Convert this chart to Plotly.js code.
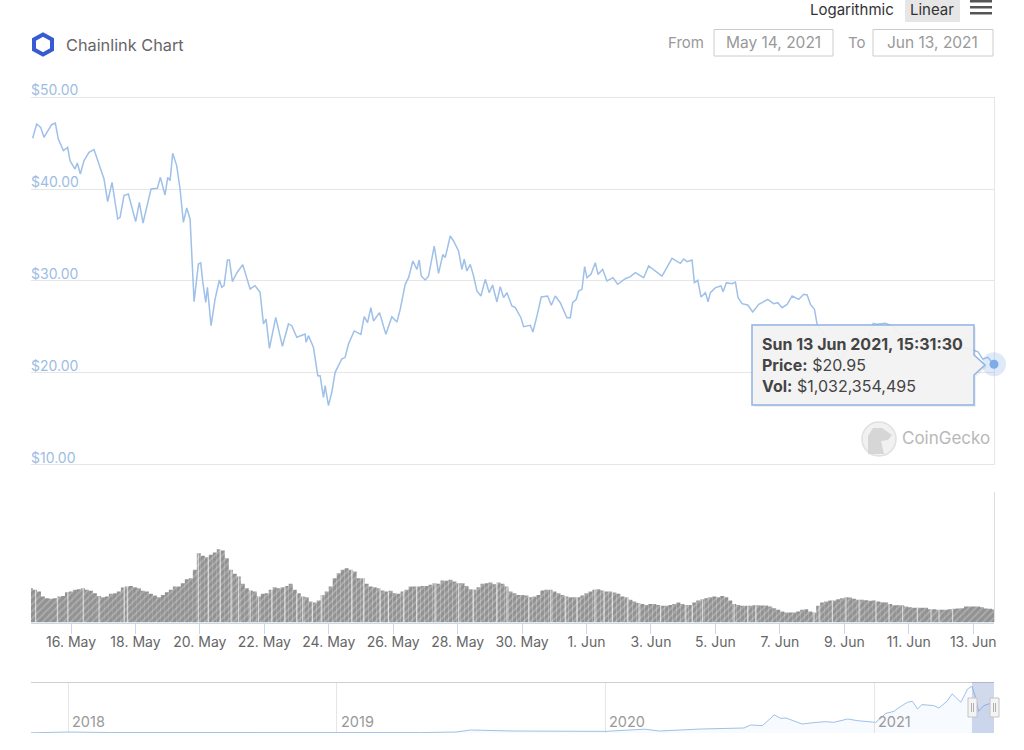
<!DOCTYPE html>
<html>
<head>
<meta charset="utf-8">
<title>Chainlink Chart</title>
<script src="https://cdn.plot.ly/plotly-3.0.1.min.js"></script>
<style>
    html, body { margin: 0; padding: 0; background: #fff; }
    #chart { width: 1024px; height: 750px; }
</style>
</head>
<body>
<div id="chart"></div>
<script>
/* Grafico do preco de Chainlink: preco, volume e navegador. */

// days counted from 14 May 2021 00:00 UTC
const priceDay = [
    0.809, 0.934, 1.058, 1.161, 1.285, 1.399, 1.513, 1.606, 1.762, 1.896, 1.969, 2.124, 2.196, 2.289, 2.403, 2.558,
    2.714, 2.900, 3.024, 3.138, 3.273, 3.449, 3.521, 3.645, 3.780, 4.007, 4.121, 4.235, 4.401, 4.484, 4.680, 4.773,
    4.918, 5.001, 5.074, 5.156, 5.280, 5.384, 5.488, 5.591, 5.695, 5.819, 5.953, 6.026, 6.088, 6.181, 6.233, 6.347,
    6.471, 6.605, 6.678, 6.750, 6.854, 6.916, 7.009, 7.144, 7.330, 7.558, 7.713, 7.868, 7.972, 8.054, 8.158, 8.354,
    8.561, 8.748, 8.851, 9.007, 9.265, 9.296, 9.369, 9.524, 9.659, 9.731, 9.835, 9.886, 9.990, 10.093, 10.197, 10.404,
    10.507, 10.611, 10.789, 10.892, 10.996, 11.099, 11.203, 11.306, 11.389, 11.575, 11.772, 11.958, 12.114, 12.217, 12.372, 12.476,
    12.610, 12.735, 12.807, 12.869, 12.993, 13.097, 13.273, 13.407, 13.542, 13.614, 13.770, 13.873, 14.028, 14.132, 14.204, 14.287,
    14.391, 14.494, 14.598, 14.722, 14.856, 14.980, 15.084, 15.218, 15.322, 15.426, 15.529, 15.684, 15.788, 15.964, 16.047, 16.254,
    16.336, 16.461, 16.595, 16.792, 16.906, 17.030, 17.185, 17.392, 17.496, 17.568, 17.682, 17.754, 17.858, 17.941, 18.013, 18.137,
    18.272, 18.355, 18.500, 18.634, 18.820, 18.965, 19.203, 19.358, 19.514, 19.773, 19.928, 20.342, 20.549, 20.654, 20.757, 20.913,
    21.016, 21.120, 21.275, 21.347, 21.451, 21.554, 21.689, 21.772, 21.844, 22.000, 22.175, 22.237, 22.341, 22.517, 22.620, 22.703,
    22.827, 23.003, 23.158, 23.345, 23.448, 23.624, 23.810, 23.935, 24.069, 24.225, 24.380, 24.587, 24.742, 24.846, 24.949, 25.073,
    25.156, 25.300, 25.600, 25.900, 26.100, 26.400, 26.700, 26.900, 27.000, 27.280, 27.500, 27.800, 28.100, 28.400, 28.800, 29.200,
    29.600, 30.000, 30.150, 30.300, 30.450, 30.646
];
const priceUsd = [
    45.51, 47.07, 46.70, 45.62, 46.34, 46.99, 47.17, 45.43, 44.17, 44.53, 43.08, 42.17, 42.83, 41.63, 43.08, 43.99,
    44.28, 42.36, 41.09, 38.62, 40.72, 36.74, 36.92, 39.28, 39.46, 36.45, 38.55, 36.30, 38.91, 40.00, 40.07, 41.27,
    39.35, 41.27, 40.91, 43.88, 42.54, 40.00, 36.38, 37.93, 36.74, 27.75, 31.85, 31.96, 29.93, 27.68, 29.31, 25.14,
    28.04, 30.11, 29.31, 29.49, 32.28, 32.28, 29.93, 30.87, 31.78, 29.13, 29.49, 28.77, 25.33, 25.87, 22.68, 26.05,
    22.90, 25.33, 25.14, 23.88, 24.24, 23.33, 24.06, 22.79, 19.71, 19.71, 17.35, 18.62, 16.45, 17.90, 20.07, 21.52,
    21.70, 23.15, 24.57, 24.38, 24.20, 26.12, 25.47, 27.10, 25.65, 26.56, 24.20, 26.12, 25.54, 26.92, 29.64, 30.36,
    32.17, 31.27, 32.28, 30.54, 30.11, 30.54, 33.80, 30.83, 32.90, 32.54, 34.89, 34.35, 33.26, 31.27, 32.36, 31.09,
    31.81, 30.54, 28.91, 28.37, 30.18, 28.73, 29.57, 27.72, 29.38, 28.19, 28.73, 27.28, 27.10, 26.01, 25.04, 25.18,
    24.46, 26.20, 28.26, 28.37, 27.36, 28.37, 27.64, 26.01, 26.01, 27.64, 28.01, 28.91, 29.09, 31.56, 30.36, 30.72,
    31.99, 30.72, 31.27, 30.00, 30.36, 29.64, 30.25, 30.47, 30.91, 30.36, 31.63, 30.54, 31.81, 32.46, 32.25, 31.92,
    32.39, 32.10, 32.28, 29.82, 30.07, 28.26, 28.73, 27.75, 28.73, 29.28, 29.46, 28.84, 29.82, 29.71, 29.89, 28.19,
    27.54, 27.39, 26.63, 27.46, 27.64, 28.01, 27.54, 27.64, 27.10, 27.46, 28.37, 28.01, 28.55, 28.48, 27.46, 26.92,
    25.29, 24.50, 23.00, 21.50, 22.50, 24.00, 23.50, 25.40, 25.30, 25.40, 25.10, 24.00, 24.30, 24.50, 23.50, 24.00,
    22.80, 22.50, 22.30, 21.50, 21.70, 20.95
];

// volume in USD billions, one bar about every 3 hours
const volumeBn = [
    2.71, 2.58, 2.45, 2.05, 1.92, 1.87, 1.92, 2.05, 2.10, 2.39, 2.45, 2.58, 2.63, 2.71, 2.58, 2.50, 2.31, 2.10, 2.00, 2.05,
    2.26, 2.31, 2.45, 2.76, 2.84, 2.89, 2.79, 2.71, 2.50, 2.45, 2.26, 2.13, 2.00, 2.18, 2.39, 2.58, 2.84, 2.84, 3.10, 3.42,
    3.50, 4.16, 5.47, 5.26, 5.15, 5.34, 5.52, 5.79, 5.68, 5.08, 4.16, 3.84, 3.63, 3.05, 2.71, 2.52, 2.45, 2.05, 2.26, 2.31,
    2.58, 2.79, 2.71, 2.79, 2.89, 3.05, 2.58, 2.31, 2.05, 2.00, 1.66, 1.58, 1.74, 2.18, 2.45, 2.84, 3.50, 3.89, 4.16, 4.29,
    4.16, 4.02, 3.50, 3.50, 3.05, 2.84, 2.79, 2.71, 2.52, 2.45, 2.50, 2.31, 2.26, 2.45, 2.58, 2.84, 2.84, 2.84, 2.89, 2.89,
    2.97, 3.10, 3.05, 3.31, 3.29, 3.37, 3.23, 3.10, 3.10, 2.89, 2.63, 2.58, 2.79, 3.05, 3.10, 3.16, 3.02, 3.16, 3.05, 2.84,
    2.45, 2.31, 2.18, 2.18, 2.13, 2.00, 2.05, 2.18, 2.52, 2.58, 2.58, 2.45, 2.31, 2.18, 2.05, 2.00, 2.00, 2.00, 2.13, 2.31,
    2.45, 2.58, 2.63, 2.52, 2.45, 2.45, 2.37, 2.26, 2.05, 2.00, 1.79, 1.66, 1.53, 1.47, 1.39, 1.47, 1.47, 1.39, 1.32, 1.32,
    1.39, 1.47, 1.58, 1.47, 1.39, 1.39, 1.58, 1.74, 1.84, 1.92, 2.00, 2.05, 2.00, 2.10, 2.00, 1.74, 1.47, 1.39, 1.32, 1.32,
    1.32, 1.37, 1.37, 1.34, 1.34, 1.26, 1.13, 1.00, 0.87, 0.79, 0.79, 0.79, 0.87, 1.00, 1.05, 0.87, 0.79, 1.32, 1.58, 1.66,
    1.74, 1.74, 1.84, 1.92, 2.00, 1.97, 1.87, 1.79, 1.79, 1.76, 1.71, 1.74, 1.66, 1.60, 1.58, 1.47, 1.37, 1.37, 1.37, 1.26,
    1.21, 1.16, 1.16, 1.16, 1.16, 1.05, 1.05, 1.00, 1.00, 1.00, 1.05, 1.08, 1.10, 1.13, 1.26, 1.26, 1.26, 1.26, 1.21, 1.10,
    1.08, 1.03
];

// days where the volume columns show a pale gap
const stripeDay = [
    0.90, 1.58, 1.90, 2.38, 2.87, 3.65, 3.75, 5.95, 6.26, 6.63, 6.97, 7.20, 7.56, 7.82, 8.23, 8.64, 9.01, 9.19, 9.49, 9.78,
    10.71, 11.08, 11.59, 11.85, 12.32, 12.73, 13.30, 14.03, 14.49, 15.22, 15.53, 16.21, 16.89, 17.35, 17.71, 18.26, 18.54,
    18.80, 19.27, 19.63, 20.30, 21.08, 21.28, 21.60, 22.58, 23.00, 23.25, 25.06, 25.22, 25.63, 26.05, 26.46, 26.98, 27.39,
    27.81, 28.27, 28.69, 28.94, 29.36
];

const navDate = [
    "2017-11-11", "2018-01-01", "2018-02-27", "2018-06-29", "2019-01-01", "2019-04-25", "2019-06-12", "2019-07-02",
    "2019-08-28", "2020-01-01", "2020-02-24", "2020-03-15", "2020-05-10", "2020-07-08", "2020-07-17", "2020-08-02",
    "2020-08-18", "2020-08-27", "2020-09-03", "2020-09-14", "2020-09-25", "2020-10-11", "2020-10-27", "2020-11-07",
    "2020-11-26", "2020-12-09", "2020-12-23", "2021-01-03", "2021-01-17", "2021-01-28", "2021-02-01", "2021-02-15",
    "2021-02-22", "2021-03-01", "2021-03-07", "2021-03-23", "2021-03-30", "2021-04-10", "2021-04-17", "2021-04-29",
    "2021-05-08", "2021-05-14", "2021-05-19", "2021-05-23", "2021-05-30", "2021-06-08", "2021-06-13"
];
const navPrice = [
    0.2, 1.1, 0.5, 0.3, 0.3, 0.45, 1.1, 3.3,
    2.2, 1.8, 4.2, 2.2, 4.4, 5.5, 8.8, 8.1,
    19.8, 16.1, 16.5, 12.8, 9.9, 11.4, 12.5, 11.7,
    15.4, 13.6, 12.1, 11.7, 21.6, 23.8, 26.4, 33.7,
    34.8, 26.4, 31.2, 30.1, 27.5, 34.8, 43.0, 33.8,
    48.4, 51.4, 39.0, 23.8, 30.0, 32.6, 31.0
];

const priceTicks = [10, 20, 30, 40, 50];
const volumeTickDates = [
    "2021-05-16", "2021-05-18", "2021-05-20", "2021-05-22", "2021-05-24", "2021-05-26", "2021-05-28", "2021-05-30",
    "2021-06-01", "2021-06-03", "2021-06-05", "2021-06-07", "2021-06-09", "2021-06-11", "2021-06-13"
];
const volumeTickLabels = [
    "16. May", "18. May", "20. May", "22. May", "24. May", "26. May", "28. May", "30. May",
    "1. Jun", "3. Jun", "5. Jun", "7. Jun", "9. Jun", "11. Jun", "13. Jun"
];
const navYears = ["2018-01-01", "2019-01-01", "2020-01-01", "2021-01-01"];
const navYearLabels = ["2018", "2019", "2020", "2021"];

const FONT = "Inter, 'Noto Sans', sans-serif";
const LINE_BLUE = "#9fc0e8";
const GRID = "#e6e6e6";
const AXIS_BLUE = "#ccd6eb";

const baseMs = Date.UTC(2021, 4, 14);
const dayToMs = (d) => baseMs + d * 864e5;
const firstDay = 0.758;
const lastDay = priceDay[priceDay.length - 1];
const xRange = [dayToMs(firstDay), dayToMs(lastDay)];

const volStep = (lastDay - firstDay) / (volumeBn.length - 1);
const volumeDay = volumeBn.map((_, i) => firstDay + i * volStep);
const stripeVol = stripeDay.map((d) => volumeBn[Math.round((d - firstDay) / volStep)]);

// page pixels to paper coordinates, for the page furniture around the chart
const px = (x) => x / 1024;
const py = (y) => 1 - y / 750;
const xDomain = [px(31), px(994)];

function box(x0, y0, x1, y1, fill, line, layer) {
    return {
        type: "rect", xref: "paper", yref: "paper",
        x0: px(x0), x1: px(x1), y0: py(y0), y1: py(y1),
        fillcolor: fill || "rgba(0,0,0,0)",
        line: line ? { color: line, width: 1 } : { width: 0 },
        layer: layer || "above",
    };
}

function outline(points, fill, line, width) {
    const d = points.map((p, i) => (i ? "L" : "M") + px(p[0]) + "," + py(p[1])).join(" ") + " Z";
    return {
        type: "path", xref: "paper", yref: "paper", path: d,
        fillcolor: fill || "rgba(0,0,0,0)",
        line: line ? { color: line, width: width || 1 } : { width: 0 },
        layer: "above",
    };
}

function label(text, x, y, size, color, anchor) {
    return {
        text: text, xref: "paper", yref: "paper", x: px(anchor ? x : x - 2), y: py(y),
        xanchor: anchor || "left", yanchor: "middle", align: "left",
        showarrow: false, font: { family: FONT, size: size, color: color },
    };
}

const tracePrice = {
    x: priceDay.map(dayToMs),
    y: priceUsd,
    xaxis: "x", yaxis: "y",
    mode: "lines",
    line: { color: LINE_BLUE, width: 1.5 },
    hoverinfo: "skip",
};

const traceHalo = {
    x: [dayToMs(lastDay)],
    y: [priceUsd[priceUsd.length - 1]],
    xaxis: "x", yaxis: "y",
    mode: "markers",
    cliponaxis: false,
    marker: { color: "rgba(124,170,230,0.25)", size: 24 },
    hoverinfo: "skip",
};

const tracePoint = {
    x: [dayToMs(lastDay)],
    y: [priceUsd[priceUsd.length - 1]],
    xaxis: "x", yaxis: "y",
    mode: "markers",
    cliponaxis: false,
    marker: { color: "#7fabe6", size: 9 },
    hoverinfo: "skip",
};

const traceVolume = {
    type: "bar",
    x: volumeDay.map(dayToMs),
    y: volumeBn,
    xaxis: "x2", yaxis: "y2",
    width: volStep * 864e5,
    marker: {
        color: "#949494",
        line: { width: 0 },
        pattern: { shape: "/", size: 5, solidity: 0.3, fgcolor: "#b0b0b0", bgcolor: "#929292" },
    },
    hoverinfo: "skip",
};

const traceStripes = {
    type: "bar",
    x: stripeDay.map(dayToMs),
    y: stripeVol,
    xaxis: "x2", yaxis: "y2",
    width: 0.04 * 864e5,
    marker: { color: "rgba(255,255,255,0.6)", line: { width: 0 } },
    hoverinfo: "skip",
};

const traceNav = {
    x: navDate,
    y: navPrice,
    xaxis: "x3", yaxis: "y3",
    mode: "lines",
    fill: "tozeroy",
    fillcolor: "rgba(124,170,230,0.06)",
    line: { color: LINE_BLUE, width: 1 },
    hoverinfo: "skip",
};

const shapes = [
    // logo
    outline([[43, 34.5], [52, 39.5], [52, 49.5], [43, 54.5], [34, 49.5], [34, 39.5]], null, "#375bd2", 4),
    // scale buttons and menu
    box(905, 0, 960, 22, "#e6e6e6"),
    box(970, 0, 992, 2.5, "#555555"),
    box(970, 6, 992, 8.5, "#555555"),
    box(970, 12, 992, 14.5, "#555555"),
    // date inputs
    box(714, 29.5, 833, 56, "#ffffff", "#cccccc"),
    box(873, 29.5, 993, 56, "#ffffff", "#cccccc"),
    // panel borders
    box(994, 97, 995, 465, "#e6e6e6", null, "below"),
    box(994, 492, 995, 622, "#dddddd", null, "below"),
    box(31, 682, 994, 683, "#cfcfcf"),
    // watermark
    { type: "circle", xref: "paper", yref: "paper", x0: px(862), x1: px(896), y0: py(422), y1: py(456), fillcolor: "#f1f1f1", line: { color: "#e0e0e0", width: 1.5 }, layer: "above" },
    outline([[868, 454], [868, 436], [873, 428], [882, 428], [892, 435], [888, 440], [881, 441], [884, 454]], "#d6d6d6"),
    // navigator selection and handles
    box(972, 682, 994, 733, "rgba(102,133,194,0.3)"),
    outline([[968, 698], [977, 698], [977, 717], [968, 717]], "#f4f4f4", "#c4c4c4"),
    outline([[990, 698], [999, 698], [999, 717], [990, 717]], "#f4f4f4", "#c4c4c4"),
    box(971, 703, 972, 712, "#b0b0b0"),
    box(973, 703, 974, 712, "#b0b0b0"),
    box(993, 703, 994, 712, "#b0b0b0"),
    box(995, 703, 996, 712, "#b0b0b0"),
    // tooltip
    outline([[754, 327], [976, 327], [976, 357], [987, 367], [976, 377], [976, 407], [754, 407]], "rgba(0,0,0,0.06)"),
    outline([[752, 325], [974, 325], [974, 355], [985, 365], [974, 375], [974, 405], [752, 405]], "rgba(243,243,243,0.93)", "#8fb3e0", 1.5),
];

const annotations = [
    label("Chainlink Chart", 66, 45, 16.3, "#666666"),
    label("Logarithmic", 810, 9, 15, "#333333"),
    label("Linear", 910, 9, 15, "#333333"),
    label("From", 668, 42.5, 15, "#999999"),
    label("May 14, 2021", 773, 42.5, 15.5, "#999999", "center"),
    label("To", 848, 42.5, 15, "#999999"),
    label("Jun 13, 2021", 932, 42.5, 15.5, "#999999", "center"),
    label("CoinGecko", 902, 438, 17, "#b8b8b8"),
    label("<b>Sun 13 Jun 2021, 15:31:30</b><br><b>Price:</b> $20.95<br><b>Vol:</b> $1,032,354,495", 762, 365, 16, "#444444"),
];
navYears.forEach((year, i) => {
    annotations.push({
        text: navYearLabels[i], xref: "x3", yref: "paper", x: year, y: py(721),
        xanchor: "left", yanchor: "middle", xshift: 2, showarrow: false,
        font: { family: FONT, size: 14.5, color: "#999999" },
    });
});

const layout = {
    width: 1024,
    height: 750,
    margin: { l: 0, r: 0, t: 0, b: 0 },
    paper_bgcolor: "#ffffff",
    plot_bgcolor: "#ffffff",
    showlegend: false,
    barmode: "overlay",
    font: { family: FONT },
    xaxis: {
        type: "date", domain: xDomain, range: xRange, anchor: "y",
        showgrid: false, showticklabels: false, ticks: "", zeroline: false,
        showline: false,
    },
    yaxis: {
        // the axis runs past $10 and $50 so that both end labels and grid lines are kept
        domain: [py(483), py(65)], range: [8.04, 53.48], anchor: "x",
        tickvals: priceTicks, tickformat: "$.2f",
        ticklabelposition: "inside top",
        ticklabelstandoff: -3,
        ticklabelshift: 3,
        tickfont: { family: FONT, size: 14, color: "#9dbde3" },
        gridcolor: GRID, gridwidth: 1, zeroline: false, showline: false, ticks: "",
    },
    xaxis2: {
        type: "date", domain: xDomain, range: xRange, anchor: "y2",
        tickvals: volumeTickDates, ticktext: volumeTickLabels,
        tickfont: { family: FONT, size: 14, color: "#666666" },
        ticks: "outside", ticklen: 10, tickcolor: AXIS_BLUE, tickwidth: 1,
        ticklabelstandoff: -3,
        showgrid: false, zeroline: false, showline: true, linecolor: AXIS_BLUE, linewidth: 1,
    },
    yaxis2: {
        domain: [py(622.5), py(492)], range: [0, 10.3], anchor: "x2",
        visible: false, showgrid: false, zeroline: false,
    },
    xaxis3: {
        type: "date", domain: xDomain, range: ["2017-11-11", "2021-06-13"], anchor: "y3",
        tickvals: navYears, showticklabels: false, ticks: "",
        showgrid: true, gridcolor: GRID, zeroline: false, showline: false,
    },
    yaxis3: {
        domain: [py(733), py(682.5)], range: [0, 55.5], anchor: "x3",
        visible: false, showgrid: false, zeroline: false,
    },
    shapes: shapes,
    annotations: annotations,
};

const config = { displayModeBar: false, responsive: false, staticPlot: true };

Plotly.newPlot(
    "chart",
    [tracePrice, traceHalo, tracePoint, traceVolume, traceStripes, traceNav],
    layout,
    config
);
</script>
</body>
</html>
